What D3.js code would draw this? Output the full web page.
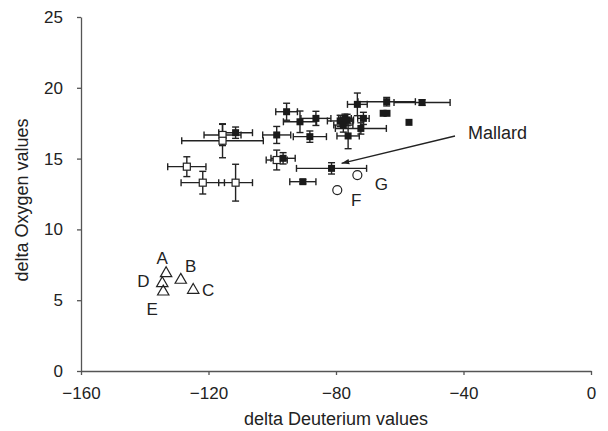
<!DOCTYPE html>
<html>
<head>
<meta charset="utf-8">
<script src="https://cdn.jsdelivr.net/npm/d3@7"></script>
<style>
  body { margin: 0; background: #fff; }
  text { font-family: "Liberation Sans", Arial, sans-serif; fill: #222; }
  .axis path, .axis line { stroke: #555; stroke-width: 1.3; }
  .axis text { font-size: 17px; fill: #222; }
</style>
</head>
<body>
<script>
// filled squares: delta D, delta O, x error, y error
var filledX    = [-111.5, -98.6, -96.6, -95.5, -91.3, -86.3, -88.2, -90.4, -81.4, -78.7, -77.2, -76.5, -77.7, -72.2, -71.4, -76.2, -73.3, -64.1, -53.0, -65.2, -64.0, -57.1];
var filledY    = [16.83, 16.67, 15.02, 18.31, 17.6, 17.84, 16.55, 13.37, 14.31, 17.66, 17.84, 17.73, 17.37, 17.13, 17.84, 16.6, 18.83, 19.02, 18.96, 18.2, 18.2, 17.56];
var filledXErr = [5.3, 4.4, 3.8, 3.4, 5.2, 4.7, 5.2, 4.1, 11, 4, 2, 2, 3, 8, 1.8, 3.5, 3.1, 9, 8.8, 0, 0, 0];
var filledYErr = [0.4, 0.6, 0.4, 0.6, 0.76, 0.5, 0.4, 0.15, 0.4, 0.4, 0.3, 0.4, 0.5, 0.4, 0.43, 0.9, 0.8, 0.3, 0.2, 0, 0, 0];

// open squares
var openX    = [-115.6, -115.6, -126.8, -121.8, -111.5, -98.6];
var openY    = [16.67, 16.26, 14.43, 13.3, 13.3, 14.9];
var openXErr = [5.8, 12.8, 6, 6.8, 5.3, 3.3];
var openYErr = [0.75, 1.2, 0.7, 0.8, 1.3, 0.7];

// triangles A-E
var triLabels = ["A", "B", "C", "D", "E"];
var triX = [-133.3, -128.7, -124.8, -134.5, -134.2];
var triY = [6.9, 6.43, 5.72, 6.19, 5.6];

// circles F, G
var circLabels = ["F", "G"];
var circX = [-79.6, -73.3];
var circY = [12.78, 13.84];

var xTicks = [-160, -120, -80, -40, 0];
var yTicks = [0, 5, 10, 15, 20, 25];
var mallardIndex = 8;

var margin = {top: 17, right: 17, bottom: 60, left: 81},
    canvasWidth = 608,
    canvasHeight = 431,
    plotWidth = canvasWidth - margin.left - margin.right,
    plotHeight = canvasHeight - margin.top - margin.bottom;

var figure = d3.select("body")
  .append("svg")
    .attr("width", canvasWidth)
    .attr("height", canvasHeight);

var x = d3.scaleLinear()
    .range([margin.left, margin.left + plotWidth])
    .domain([-160, 0]);
var y = d3.scaleLinear()
    .range([margin.top + plotHeight, margin.top])
    .domain([0, 25]);

// axes
figure.append("g")
    .attr("class", "axis")
    .attr("transform", "translate(0," + (margin.top + plotHeight) + ")")
    .call(d3.axisBottom(x).tickValues(xTicks).tickSize(4).tickSizeOuter(0).tickPadding(12)
      .tickFormat(function(d) { return d < 0 ? "\u2212" + Math.abs(d) : d; }));

figure.append("g")
    .attr("class", "axis")
    .attr("transform", "translate(" + margin.left + ",0)")
    .call(d3.axisLeft(y).tickValues(yTicks).tickSize(4).tickSizeOuter(0).tickPadding(14));

// axis labels
figure.append("text")
    .attr("text-anchor", "middle")
    .attr("x", margin.left + plotWidth / 2)
    .attr("y", 425)
    .style("font-size", "18px")
    .text("delta Deuterium values");

figure.append("text")
    .attr("text-anchor", "middle")
    .attr("transform", "translate(28,200) rotate(-90)")
    .style("font-size", "18px")
    .text("delta Oxygen values");

// error bars
function errorBars(g, xs, ys, xe, ye) {
  var cap = 3.5;
  xs.forEach(function(d, i) {
    var cx = x(d), cy = y(ys[i]);
    if (xe[i] > 0) {
      var x0 = x(d - xe[i]), x1 = x(d + xe[i]);
      g.append("line").attr("x1", x0).attr("x2", x1).attr("y1", cy).attr("y2", cy);
      g.append("line").attr("x1", x0).attr("x2", x0).attr("y1", cy - cap).attr("y2", cy + cap);
      g.append("line").attr("x1", x1).attr("x2", x1).attr("y1", cy - cap).attr("y2", cy + cap);
    }
    if (ye[i] > 0) {
      var y0 = y(ys[i] - ye[i]), y1 = y(ys[i] + ye[i]);
      g.append("line").attr("x1", cx).attr("x2", cx).attr("y1", y0).attr("y2", y1);
      g.append("line").attr("x1", cx - cap).attr("x2", cx + cap).attr("y1", y0).attr("y2", y0);
      g.append("line").attr("x1", cx - cap).attr("x2", cx + cap).attr("y1", y1).attr("y2", y1);
    }
  });
}

var bars = figure.append("g")
    .attr("stroke", "#222")
    .attr("stroke-width", 1.4);
errorBars(bars, openX, openY, openXErr, openYErr);
errorBars(bars, filledX, filledY, filledXErr, filledYErr);

var sq = 7;

// open squares
figure.append("g")
  .selectAll("rect")
  .data(openX)
  .enter()
  .append("rect")
    .attr("x", function(d) { return x(d) - sq / 2; })
    .attr("y", function(d, i) { return y(openY[i]) - sq / 2; })
    .attr("width", sq)
    .attr("height", sq)
    .attr("fill", "#fff")
    .attr("stroke", "#222")
    .attr("stroke-width", 1.2);

// filled squares
figure.append("g")
  .selectAll("rect")
  .data(filledX)
  .enter()
  .append("rect")
    .attr("x", function(d) { return x(d) - sq / 2; })
    .attr("y", function(d, i) { return y(filledY[i]) - sq / 2; })
    .attr("width", sq)
    .attr("height", sq)
    .attr("fill", "#1a1a1a");

// triangles
var tri = d3.symbol().type(d3.symbolTriangle).size(56);
figure.append("g")
  .selectAll("path")
  .data(triX)
  .enter()
  .append("path")
    .attr("d", tri)
    .attr("transform", function(d, i) { return "translate(" + x(d) + "," + y(triY[i]) + ")"; })
    .attr("fill", "none")
    .attr("stroke", "#222")
    .attr("stroke-width", 1.2);

var triOffsets = [[-4, -15], [10, -13], [15, 0], [-19, -2], [-11, 18]];
figure.append("g")
  .selectAll("text")
  .data(triLabels)
  .enter()
  .append("text")
    .attr("text-anchor", "middle")
    .attr("dominant-baseline", "central")
    .attr("x", function(d, i) { return x(triX[i]) + triOffsets[i][0]; })
    .attr("y", function(d, i) { return y(triY[i]) + triOffsets[i][1]; })
    .style("font-size", "17px")
    .text(function(d) { return d; });

// circles
figure.append("g")
  .selectAll("circle")
  .data(circX)
  .enter()
  .append("circle")
    .attr("r", 4.5)
    .attr("cx", function(d) { return x(d); })
    .attr("cy", function(d, i) { return y(circY[i]); })
    .attr("fill", "#fff")
    .attr("stroke", "#222")
    .attr("stroke-width", 1.2);

var circOffsets = [[19, 10], [24, 9]];
figure.append("g")
  .selectAll("text")
  .data(circLabels)
  .enter()
  .append("text")
    .attr("text-anchor", "middle")
    .attr("dominant-baseline", "central")
    .attr("x", function(d, i) { return x(circX[i]) + circOffsets[i][0]; })
    .attr("y", function(d, i) { return y(circY[i]) + circOffsets[i][1]; })
    .style("font-size", "17px")
    .text(function(d) { return d; });

// Mallard annotation
figure.append("defs").append("marker")
    .attr("id", "arrow")
    .attr("viewBox", "0 0 10 10")
    .attr("refX", 10).attr("refY", 5)
    .attr("markerWidth", 6).attr("markerHeight", 6)
    .attr("orient", "auto")
  .append("path")
    .attr("d", "M0,1.5 L10,5 L0,8.5 Z")
    .attr("fill", "#222");

var mx = x(filledX[mallardIndex]), my = y(filledY[mallardIndex]);
figure.append("line")
    .attr("x1", 455).attr("y1", 136)
    .attr("x2", mx + 10).attr("y2", my - 5)
    .attr("stroke", "#222")
    .attr("stroke-width", 1.3)
    .attr("marker-end", "url(#arrow)");

figure.append("text")
    .attr("x", 468)
    .attr("y", 139)
    .style("font-size", "18px")
    .text("Mallard");
</script>
</body>
</html>
